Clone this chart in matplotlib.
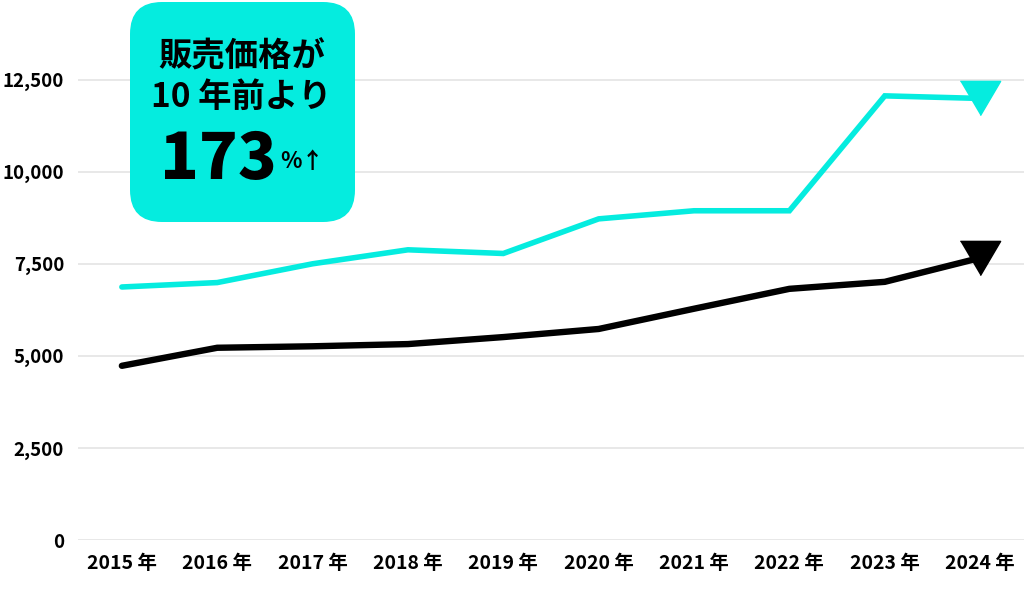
import matplotlib
matplotlib.use("Agg")
import matplotlib.pyplot as plt
from matplotlib.patches import FancyBboxPatch

plt.rcParams["font.family"] = ["Noto Sans CJK JP", "DejaVu Sans"]

# ---- data ----
YEARS      = [2015, 2016, 2017, 2018, 2019, 2020, 2021, 2022, 2023, 2024]
YEAR_LABELS = [f"{y} 年" for y in YEARS]
SALE_PRICE = [6870, 6990, 7500, 7880, 7780, 8720, 8940, 8940, 12060, 11990]
OTHER      = [4730, 5220, 5260, 5320, 5510, 5730, 6280, 6820, 7010, 7660]
Y_TICKS    = [0, 2500, 5000, 7500, 10000, 12500]

CYAN  = "#05ECDF"
BLACK = "#000000"
GRID  = "#e8e8e8"

W, H = 1024, 592
fig = plt.figure(figsize=(W / 100, H / 100), dpi=100)

# main plot area, placed in pixels
ax = fig.add_axes([78 / W, 52 / H, (W - 78) / W, 534 / H])
ax.set_xlim(2014.54, 2024.46)
ax.set_ylim(0, 14500)

for vals, color, lw in ((SALE_PRICE, CYAN, 4.0), (OTHER, BLACK, 4.6)):
    ax.plot(YEARS, vals, color=color, lw=lw, solid_capstyle="round",
            solid_joinstyle="miter", zorder=3)
    ax.plot(YEARS[-1], vals[-1], marker=[(-20, 17), (20, 17), (0, -17)],
            ms=29, color=color, mec=color, ls="none", zorder=4)

ax.set_yticks(Y_TICKS)
ax.set_yticklabels([f"{v:,}" for v in Y_TICKS])
ax.set_xticks(YEARS)
ax.set_xticklabels(YEAR_LABELS)
ax.yaxis.grid(True, color=GRID, lw=1.4)
ax.set_axisbelow(True)
ax.tick_params(axis="y", length=0, labelsize=13.5, pad=10)
ax.tick_params(axis="x", length=0, labelsize=14, pad=10)
for lab in ax.get_xticklabels() + ax.get_yticklabels():
    lab.set_fontweight("bold")
for s in ax.spines.values():
    s.set_visible(False)

# ---- callout box, drawn in pixel coords on an overlay ----
ov = fig.add_axes([0, 0, 1, 1])
ov.set_xlim(0, W)
ov.set_ylim(H, 0)
ov.axis("off")
ov.patch.set_visible(False)

ov.add_patch(FancyBboxPatch((160, 32), 165, 160,
                            boxstyle="round,pad=30,rounding_size=32",
                            fc=CYAN, ec="none"))
ov.text(242, 57, "販売価格が", ha="center", va="center",
        fontsize=24, fontweight="bold")
ov.text(241, 97, "10 年前より", ha="center", va="center",
        fontsize=24, fontweight="bold")
ov.text(218, 160, "173", ha="center", va="center",
        fontsize=46, fontweight="heavy")
ov.text(302, 162, "%↑", ha="center", va="center",
        fontsize=16, fontweight="bold")

fig.savefig("out.png", dpi=100)
